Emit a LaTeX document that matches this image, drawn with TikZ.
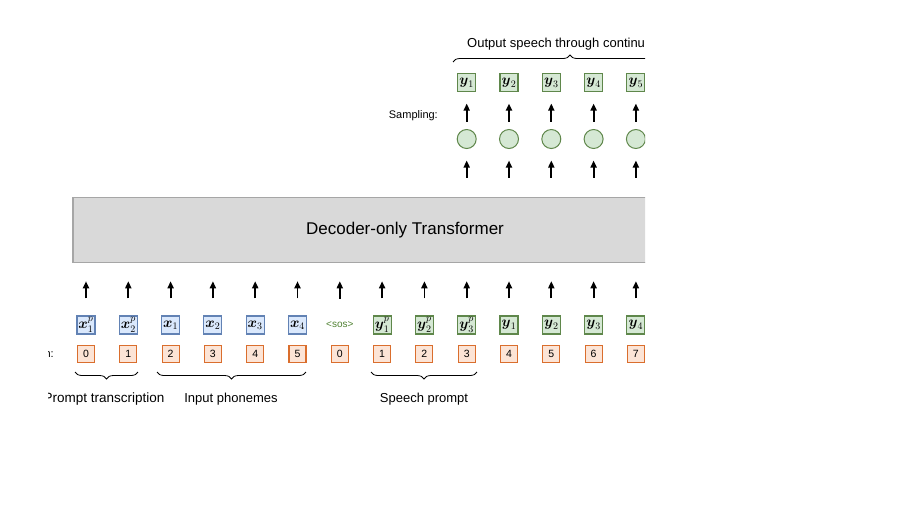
\documentclass[tikz,border=0pt]{standalone}
\usepackage{amsmath,amssymb}
\usepackage{fontspec}
\setsansfont{Liberation Sans}
\usetikzlibrary{arrows.meta,positioning,decorations.pathreplacing}
\definecolor{xfill}{RGB}{218,232,252}
\definecolor{xdraw}{RGB}{98,130,180}
\definecolor{yfill}{RGB}{213,232,212}
\definecolor{ydraw}{RGB}{95,135,75}
\definecolor{pfill}{RGB}{252,228,214}
\definecolor{pdraw}{RGB}{218,110,45}
\definecolor{tfill}{RGB}{217,217,217}
\definecolor{tdraw}{RGB}{166,166,166}
\definecolor{sosgreen}{RGB}{80,130,50}

\begin{document}
\begin{tikzpicture}[x=1pt, y=-1pt, every node/.style={font=\sffamily},
  xbox/.style={draw=xdraw,fill=xfill,line width=1.1pt,minimum width=18pt,minimum height=18pt,inner sep=0pt,font=\fontsize{14}{16}\selectfont},
  ybox/.style={draw=ydraw,fill=yfill,line width=1.1pt,minimum width=18pt,minimum height=18pt,inner sep=0pt,font=\fontsize{14}{16}\selectfont},
  sosbox/.style={minimum width=18pt,minimum height=18pt,inner sep=0pt,text=sosgreen,font=\sffamily\fontsize{10}{11}\selectfont},
  pbox/.style={draw=pdraw,fill=pfill,line width=1.1pt,minimum width=17pt,minimum height=17pt,inner sep=0pt,font=\sffamily\fontsize{10.5}{12}\selectfont},
  sbox/.style={circle,draw=ydraw,fill=yfill,line width=1pt,minimum size=19pt,inner sep=0pt},
  tfbox/.style={draw=tdraw,fill=tfill,line width=1.5pt,minimum width=664pt,minimum height=65pt,font=\sffamily\fontsize{17}{20}\selectfont},
  lbl/.style={font=\sffamily\fontsize{13}{15}\selectfont,inner sep=0pt},
  up/.style={-{Triangle[length=7pt,width=6pt]},line width=1.8pt},
  brc/.style={decorate,decoration={brace,amplitude=7pt},line width=0.8pt}]
  \useasboundingbox (0,0) rectangle (915,515);
  \clip (48,0) rectangle (645,515);

  \node[tfbox] (tf) at (405,230) {Decoder-only Transformer};

  \foreach \s/\lab [count=\i from 0] in {xbox/{$\boldsymbol{x}^{p}_{1}$}, xbox/{$\boldsymbol{x}^{p}_{2}$},
      xbox/{$\boldsymbol{x}_{1}$}, xbox/{$\boldsymbol{x}_{2}$}, xbox/{$\boldsymbol{x}_{3}$}, xbox/{$\boldsymbol{x}_{4}$},
      sosbox/{<sos>}, ybox/{$\boldsymbol{y}^{p}_{1}$}, ybox/{$\boldsymbol{y}^{p}_{2}$}, ybox/{$\boldsymbol{y}^{p}_{3}$},
      ybox/{$\boldsymbol{y}_{1}$}, ybox/{$\boldsymbol{y}_{2}$}, ybox/{$\boldsymbol{y}_{3}$}, ybox/{$\boldsymbol{y}_{4}$}} {
    \node[\s] (t\i) at (86+42.3*\i,325) {\lab};
    \draw[up, shorten <=17pt, shorten >=18pt] (t\i) -- (t\i |- tf.south);
  }
  \foreach \p [count=\i from 0] in {0,1,2,3,4,5,0,1,2,3,4,5,6,7}
    \node[pbox] (p\i) at (86+42.3*\i,354) {\p};

  \node[lbl,anchor=east,font=\sffamily\fontsize{11}{13}\selectfont] (poslbl) at (54,354) {Position:};

  \foreach \j in {1,...,5} {
    \node[sbox] (s\j) at (86+42.3*\j+42.3*8,139) {};
    \node[ybox] (o\j) at (86+42.3*\j+42.3*8,82.5) {$\boldsymbol{y}_{\j}$};
    \draw[up, shorten <=19pt, shorten >=11.5pt] (tf.north -| s\j) -- (s\j);
    \draw[up, shorten <=7.5pt, shorten >=11.5pt] (s\j) -- (o\j);
  }
  \node[lbl,anchor=east,font=\sffamily\fontsize{11}{13}\selectfont] (samp) at (438,116) {Sampling:};

  \draw[brc] (138,372) -- (75,372);
  \draw[brc] (306,372) -- (157,372);
  \draw[brc] (477,372) -- (371,372);
  \node[lbl,font=\sffamily\fontsize{13.5}{15}\selectfont] (ptr) at (104,399) {Prompt transcription};
  \node[lbl] (iph) at (231,399) {Input phonemes};
  \node[lbl] (spp) at (424,399) {Speech prompt};

  \draw[brc] (453,62) -- (687,62);
  \node[lbl,anchor=west] (outs) at (467,44) {Output speech through continu};
\end{tikzpicture}
\end{document}
